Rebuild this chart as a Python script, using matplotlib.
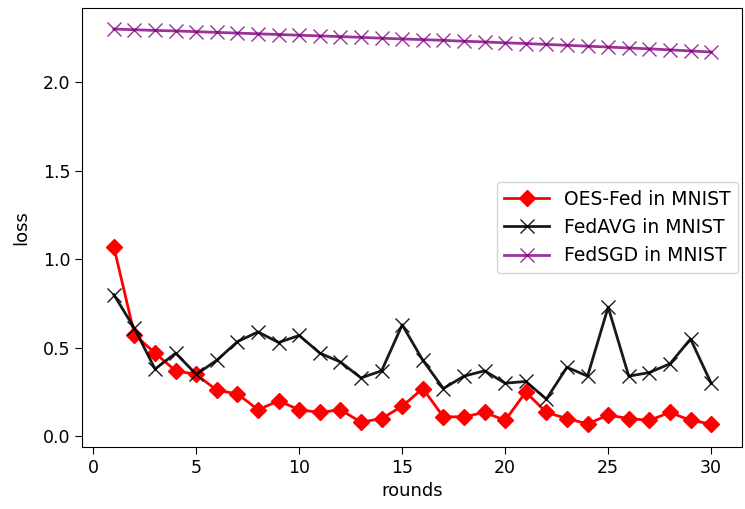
import matplotlib
matplotlib.use("Agg")
import matplotlib.pyplot as plt
import numpy as np

rounds = np.arange(1, 31)

oes_fed = [1.07, 0.575, 0.47, 0.37, 0.35, 0.26, 0.24, 0.15, 0.20, 0.15,
           0.135, 0.15, 0.08, 0.10, 0.17, 0.27, 0.11, 0.11, 0.135, 0.09,
           0.25, 0.135, 0.10, 0.07, 0.12, 0.10, 0.09, 0.135, 0.09, 0.07]

fedavg = [0.80, 0.61, 0.38, 0.47, 0.35, 0.43, 0.535, 0.59, 0.53, 0.57,
          0.47, 0.42, 0.33, 0.37, 0.63, 0.43, 0.27, 0.34, 0.37, 0.30,
          0.31, 0.21, 0.39, 0.34, 0.73, 0.34, 0.36, 0.41, 0.55, 0.30]

fedsgd = [2.302, 2.298, 2.294, 2.291, 2.287, 2.283, 2.279, 2.275, 2.271, 2.267,
          2.263, 2.259, 2.255, 2.250, 2.246, 2.242, 2.238, 2.233, 2.229, 2.224,
          2.220, 2.215, 2.210, 2.205, 2.200, 2.195, 2.190, 2.184, 2.178, 2.172]

fig = plt.figure(figsize=(7.45, 5.09), dpi=100)
ax = fig.add_axes([0.110, 0.122, 0.886, 0.862])

ax.plot(rounds, oes_fed, color="red", marker="D", markersize=8, linewidth=2,
        label="OES-Fed in MNIST")
ax.plot(rounds, fedavg, color="black", marker="x", markersize=10, linewidth=2,
        alpha=0.9, label="FedAVG in MNIST")
ax.plot(rounds, fedsgd, color="purple", marker="x", markersize=10, linewidth=2,
        alpha=0.8, label="FedSGD in MNIST")

ax.set_xlim(-0.55, 31.5)
ax.set_ylim(-0.06, 2.42)
ax.set_xticks([0, 5, 10, 15, 20, 25, 30])
ax.tick_params(labelsize=12.5, length=5)
ax.set_xlabel("rounds", fontsize=13)
ax.set_ylabel("loss", fontsize=13, labelpad=9)
ax.legend(loc="center right", fontsize=13.5, borderaxespad=0.2, handlelength=2.4)

fig.savefig("out.png", dpi=100)
